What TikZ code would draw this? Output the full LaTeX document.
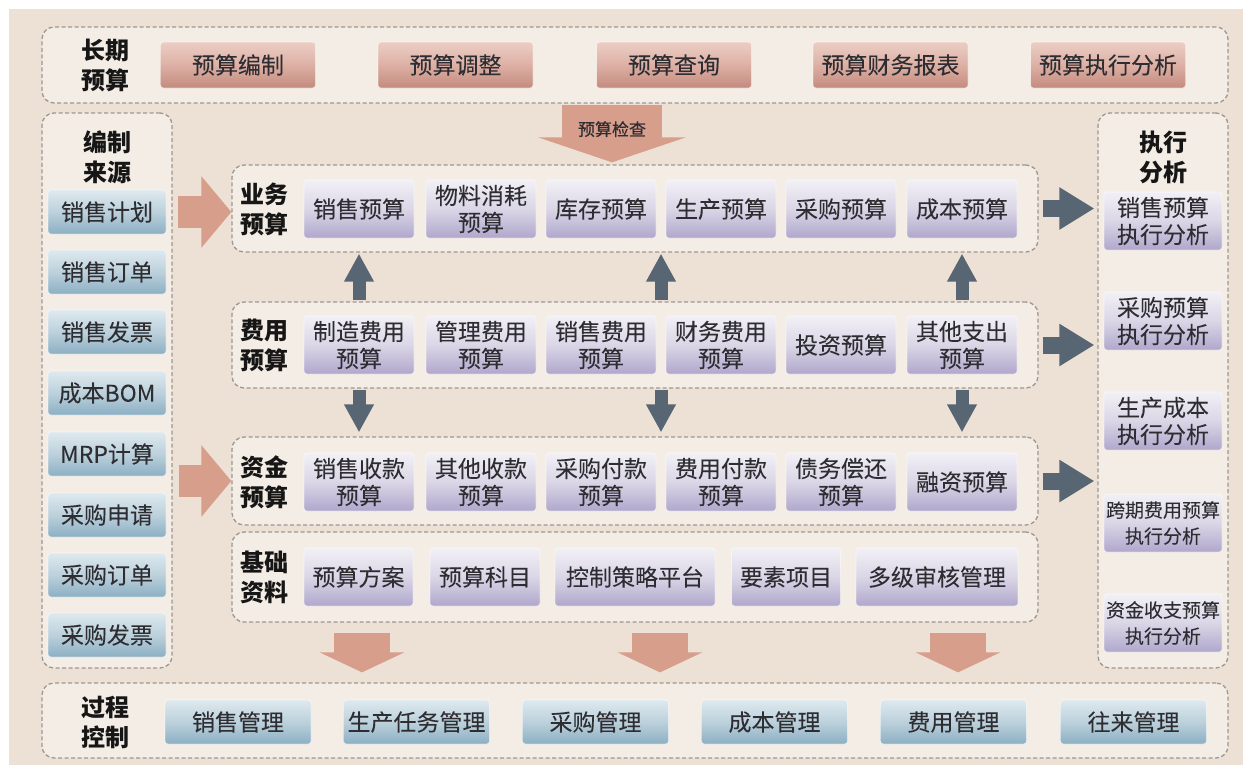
\documentclass[tikz,border=0pt]{standalone}
\usepackage{fontspec}
\setmainfont{Noto Sans CJK SC}
\newfontfamily\boxcjk{Noto Sans CJK SC}[FakeBold=0.6]
\usetikzlibrary{arrows.meta,calc}
\definecolor{parch}{RGB}{236,225,212}
\definecolor{panelfill}{RGB}{247,242,236}
\definecolor{paneldraw}{RGB}{150,143,138}
\definecolor{txt}{RGB}{45,45,50}
\definecolor{lbl}{RGB}{22,22,22}
\definecolor{sa1}{RGB}{236,206,196}
\definecolor{sa2}{RGB}{221,176,165}
\definecolor{sa3}{RGB}{196,138,126}
\definecolor{bl1}{RGB}{222,233,238}
\definecolor{bl2}{RGB}{188,209,220}
\definecolor{bl3}{RGB}{140,175,195}
\definecolor{pu1}{RGB}{242,240,246}
\definecolor{pu2}{RGB}{218,214,230}
\definecolor{pu3}{RGB}{176,167,204}
\definecolor{salarr}{RGB}{216,158,140}
\definecolor{grarr}{RGB}{88,102,115}
\newcommand{\bxf}{\boxcjk\fontsize{23}{27}\selectfont}
\newcommand{\smf}{\boxcjk\fontsize{19}{26}\selectfont}
\newcommand{\lbf}{\fontsize{24}{30}\selectfont\bfseries}
\tikzset{
  panel/.style={draw=paneldraw, line width=1.3pt, dash pattern=on 4pt off 2.5pt,
    rounded corners=12pt, fill=panelfill, fill opacity=0.75, draw opacity=0.9, inner sep=0pt},
  boxbase/.style={rounded corners=3pt, inner sep=1pt, align=center, text=txt, font=\bxf,
    draw=white, draw opacity=0.5, line width=0.8pt},
  sbox/.style={boxbase, top color=sa1, bottom color=sa3, middle color=sa2, minimum width=155pt, minimum height=46pt},
  bbox/.style={boxbase, top color=bl1, bottom color=bl3, middle color=bl2, minimum width=118pt, minimum height=44pt},
  bmbox/.style={boxbase, top color=bl1, bottom color=bl3, middle color=bl2, minimum width=146pt, minimum height=44pt},
  pbox/.style={boxbase, top color=pu1, bottom color=pu3, middle color=pu2, minimum width=110pt, minimum height=58pt},
  rbox/.style={boxbase, top color=pu1, bottom color=pu3, middle color=pu2, minimum width=118pt, minimum height=58pt},
  lab/.style={font=\lbf, text=lbl, align=center, inner sep=0pt},
  salright/.style={draw=salarr, line width=32pt, -{Triangle[length=30pt,width=70pt]}},
  saldown/.style={draw=salarr, line width=56pt, -{Triangle[length=20pt,width=84pt]}},
  topdown/.style={draw=salarr, line width=100pt, -{Triangle[length=25pt,width=147pt]}},
  grright/.style={draw=grarr, line width=17pt, -{Triangle[length=35pt,width=40pt]}},
  grvert/.style={draw=grarr, line width=13pt, -{Triangle[length=28pt,width=28pt]}}
}
\begin{document}
\begin{tikzpicture}[x=1pt,y=-1pt]
\useasboundingbox (0,0) rectangle (1243,764);
\fill[parch] (-5,-5) rectangle (1250,770);
\fill[white] (-5,-5) rectangle (1250,9);
\fill[white] (-5,-5) rectangle (9,770);

% panels
\node[panel, minimum width=1186pt, minimum height=76pt] (ptop) at (635,65) {};
\node[panel, minimum width=130pt, minimum height=555pt] (lp) at (107,390.5) {};
\node[panel, minimum width=130pt, minimum height=555pt] (rp) at (1163,390.5) {};
\node[panel, minimum width=806pt, minimum height=87pt] (pyw) at (635,208.5) {};
\node[panel, minimum width=806pt, minimum height=86pt] (pfy) at (635,345) {};
\node[panel, minimum width=806pt, minimum height=88pt] (pzj) at (635,481) {};
\node[panel, minimum width=806pt, minimum height=90pt] (pjc) at (635,577) {};
\node[panel, minimum width=1186pt, minimum height=75pt] (pbot) at (635,720.5) {};

% top row
\node[lab] (ltop) at (105,65) {长期\\预算};
\node[sbox] (t1) at (238,65) {预算编制};
\node[sbox] (t2) at (455.5,65) {预算调整};
\node[sbox] (t3) at (674,65) {预算查询};
\node[sbox] (t4) at (890.5,65) {预算财务报表};
\node[sbox] (t5) at (1108,65) {预算执行分析};

% left column
\node[lab] (llft) at (107,157) {编制\\来源};
\node[bbox] (l1) at (107,212) {销售计划};
\node[bbox] (l2) at (107,272) {销售订单};
\node[bbox] (l3) at (107,332) {销售发票};
\node[bbox] (l4) at (107,393) {成本BOM};
\node[bbox] (l5) at (107,454) {MRP计算};
\node[bbox] (l6) at (107,515) {采购申请};
\node[bbox] (l7) at (107,575) {采购订单};
\node[bbox] (l8) at (107,635) {采购发票};

% right column
\node[lab] (lrgt) at (1163,157) {执行\\分析};
\node[rbox] (r1) at (1163,221) {销售预算\\执行分析};
\node[rbox] (r2) at (1163,321) {采购预算\\执行分析};
\node[rbox] (r3) at (1163,421) {生产成本\\执行分析};
\node[rbox, font=\smf] (r4) at (1163,523) {跨期费用预算\\执行分析};
\node[rbox, font=\smf] (r5) at (1163,623) {资金收支预算\\执行分析};

% 业务预算
\node[lab] (lyw) at (264,209) {业务\\预算};
\node[pbox] (a1) at (359,209) {销售预算};
\node[pbox] (a2) at (481,209) {物料消耗\\预算};
\node[pbox] (a3) at (601,209) {库存预算};
\node[pbox] (a4) at (721,209) {生产预算};
\node[pbox] (a5) at (841,209) {采购预算};
\node[pbox] (a6) at (962,209) {成本预算};

% 费用预算
\node[lab] (lfy) at (264,345) {费用\\预算};
\node[pbox] (b1) at (359,345) {制造费用\\预算};
\node[pbox] (b2) at (481,345) {管理费用\\预算};
\node[pbox] (b3) at (601,345) {销售费用\\预算};
\node[pbox] (b4) at (721,345) {财务费用\\预算};
\node[pbox] (b5) at (841,345) {投资预算};
\node[pbox] (b6) at (962,345) {其他支出\\预算};

% 资金预算
\node[lab] (lzj) at (264,482) {资金\\预算};
\node[pbox] (c1) at (359,482) {销售收款\\预算};
\node[pbox] (c2) at (481,482) {其他收款\\预算};
\node[pbox] (c3) at (601,482) {采购付款\\预算};
\node[pbox] (c4) at (721,482) {费用付款\\预算};
\node[pbox] (c5) at (841,482) {债务偿还\\预算};
\node[pbox] (c6) at (962,482) {融资预算};

% 基础资料
\node[lab] (ljc) at (264,577) {基础\\资料};
\node[pbox, minimum width=109pt] (d1) at (358.5,577) {预算方案};
\node[pbox] (d2) at (485,577) {预算科目};
\node[pbox, minimum width=160pt] (d3) at (635,577) {控制策略平台};
\node[pbox, minimum width=109pt] (d4) at (786,577) {要素项目};
\node[pbox, minimum width=162pt] (d5) at (937,577) {多级审核管理};

% bottom row
\node[lab] (lbot) at (105,722) {过程\\控制};
\node[bmbox] (m1) at (238,722) {销售管理};
\node[bmbox] (m2) at (416.5,722) {生产任务管理};
\node[bmbox] (m3) at (595.5,722) {采购管理};
\node[bmbox] (m4) at (774.5,722) {成本管理};
\node[bmbox] (m5) at (953.5,722) {费用管理};
\node[bmbox] (m6) at (1133.5,722) {往来管理};

% arrow anchor columns
\coordinate (xc) at (612,0);
\coordinate (x1) at (362,0);
\coordinate (x2) at (660,0);
\coordinate (x3) at (958,0);
\coordinate (v2) at ($(b3)!0.5!(b4)$);

% salmon arrows
\draw[topdown, shorten <=1pt, shorten >=2pt] (ptop.south -| xc) -- node[pos=0.42, font=\boxcjk\fontsize{17}{20}\selectfont, text=txt] {预算检查} (pyw.north -| xc);
\draw[salright, shorten <=5pt, shorten >=0pt] (lp.east |- l1) -- (pyw.west |- l1);
\draw[salright, shorten <=6pt, shorten >=0pt] (lp.east |- pzj.west) -- (pzj.west);
\draw[saldown, shorten <=10pt, shorten >=10pt] (pjc.south -| x1) -- (pbot.north -| x1);
\draw[saldown, shorten <=10pt, shorten >=10pt] (pjc.south -| x2) -- (pbot.north -| x2);
\draw[saldown, shorten <=10pt, shorten >=10pt] (pjc.south -| x3) -- (pbot.north -| x3);

% gray arrows
\draw[grright, shorten <=4pt, shorten >=3pt] (pyw.east) -- (rp.west |- pyw.east);
\draw[grright, shorten <=4pt, shorten >=3pt] (pfy.east) -- (rp.west |- pfy.east);
\draw[grright, shorten <=4pt, shorten >=3pt] (pzj.east) -- (rp.west |- pzj.east);
\draw[grvert, shorten <=1pt, shorten >=1pt] (pfy.north -| b1) -- (pyw.south -| b1);
\draw[grvert, shorten <=1pt, shorten >=1pt] (pfy.north -| v2) -- (pyw.south -| v2);
\draw[grvert, shorten <=1pt, shorten >=1pt] (pfy.north -| b6) -- (pyw.south -| b6);
\draw[grvert, shorten <=1pt, shorten >=4pt] (pfy.south -| b1) -- (pzj.north -| b1);
\draw[grvert, shorten <=1pt, shorten >=4pt] (pfy.south -| v2) -- (pzj.north -| v2);
\draw[grvert, shorten <=1pt, shorten >=4pt] (pfy.south -| b6) -- (pzj.north -| b6);
\end{tikzpicture}
\end{document}
